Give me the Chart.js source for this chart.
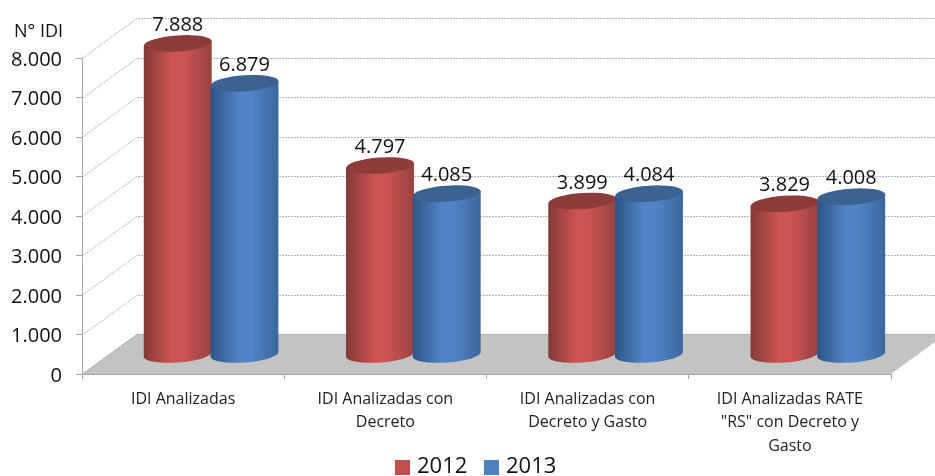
<!DOCTYPE html>
<html>
<head>
<meta charset="utf-8">
<script src="https://cdn.jsdelivr.net/npm/chart.js@4"></script>
<style>
    html, body { margin: 0; padding: 0; background: #fff; }
    canvas { display: block; }
</style>
</head>
<body>
<canvas id="idiChart" width="935" height="476"></canvas>
<script>
// Data
const categories = [
    'IDI Analizadas',
    ['IDI Analizadas con', 'Decreto'],
    ['IDI Analizadas con', 'Decreto y Gasto'],
    ['IDI Analizadas RATE', '"RS" con Decreto y', 'Gasto']
];
const values2012 = [7888, 4797, 3899, 3829];
const values2013 = [6879, 4085, 4084, 4008];

const FONT = "'Open Sans', sans-serif";
const GRID = '#b4b4b4';

// Depth of the 3D box, and how far into it the cylinders stand
const boxDx = 55, boxDy = 40;
const barDx = 28, barDy = 19, capRy = 8, capTilt = -0.07;

const palette = {
    2012: { left: '#843a38', mid: '#cc5452', right: '#964240', top: '#8e3c3a' },
    2013: { left: '#2d5585', mid: '#5184c6', right: '#3a679c', top: '#3b6290' }
};

const dotted = n => n.toLocaleString('de-DE');

// Walls and floor behind the bars
function drawBox(ctx, chart) {
    const { x, y } = chart.scales;
    const left = x.left, right = x.right, bottom = y.getPixelForValue(0);

    ctx.save();
    ctx.fillStyle = '#c3c3c3';
    ctx.beginPath();
    ctx.moveTo(left, bottom);
    ctx.lineTo(left + boxDx, bottom - boxDy);
    ctx.lineTo(right + boxDx, bottom - boxDy);
    ctx.lineTo(right, bottom);
    ctx.closePath();
    ctx.fill();

    ctx.strokeStyle = GRID;
    ctx.lineWidth = 1;
    y.ticks.forEach(t => {
        const py = Math.round(y.getPixelForValue(t.value)) + 0.5;
        ctx.setLineDash(t.value === 0 ? [] : [2, 1]);
        ctx.beginPath();
        ctx.moveTo(left, py);
        ctx.lineTo(left + boxDx, py - boxDy);
        ctx.lineTo(right + boxDx, py - boxDy);
        ctx.stroke();
    });
    ctx.restore();
}

function drawCylinder(ctx, bar, colors) {
    const cx = bar.x + barDx;
    const rx = bar.width / 2 + 0.6;
    const topY = bar.y - barDy;
    const baseY = bar.base - barDy;
    const lean = rx * Math.sin(capTilt);

    const grad = ctx.createLinearGradient(cx - rx, 0, cx + rx, 0);
    grad.addColorStop(0, colors.left);
    grad.addColorStop(0.42, colors.mid);
    grad.addColorStop(0.6, colors.mid);
    grad.addColorStop(1, colors.right);

    ctx.fillStyle = grad;
    ctx.beginPath();
    ctx.moveTo(cx - rx, topY - lean);
    ctx.lineTo(cx - rx, baseY - lean);
    ctx.ellipse(cx, baseY, rx, capRy, capTilt, Math.PI, 0, true);
    ctx.lineTo(cx + rx, topY + lean);
    ctx.closePath();
    ctx.fill();

    ctx.fillStyle = colors.top;
    ctx.beginPath();
    ctx.ellipse(cx, topY, rx, capRy, capTilt, 0, Math.PI * 2);
    ctx.fill();
}

function drawLegend(ctx, chart) {
    ctx.save();
    ctx.font = '22px ' + FONT;
    ctx.textAlign = 'left';
    ctx.textBaseline = 'middle';
    chart.data.datasets.forEach((ds, d) => {
        const x = 395 + d * 89;
        ctx.fillStyle = ds.backgroundColor;
        ctx.fillRect(x, 460, 15, 15);
        ctx.fillStyle = '#111';
        ctx.fillText(ds.label, x + 22, 467);
    });
    ctx.restore();
}

// Replaces the flat bars: same element positions, drawn as cylinders
const cylinders = {
    id: 'cylinders',
    beforeDatasetsDraw(chart) {
        const ctx = chart.ctx;
        drawBox(ctx, chart);

        chart.data.labels.forEach((_, i) => {
            chart.data.datasets.forEach((ds, d) => {
                drawCylinder(ctx, chart.getDatasetMeta(d).data[i], palette[ds.label]);
            });
        });

        ctx.save();
        ctx.fillStyle = '#111';
        ctx.font = '20px ' + FONT;
        ctx.textAlign = 'center';
        ctx.textBaseline = 'middle';
        chart.data.datasets.forEach((ds, d) => {
            chart.getDatasetMeta(d).data.forEach((bar, i) => {
                ctx.fillText(dotted(ds.data[i]), bar.x + barDx, bar.y - barDy - 18);
            });
        });
        ctx.textAlign = 'left';
        ctx.font = '18px ' + FONT;
        ctx.fillText('N° IDI', 14, 32);
        ctx.restore();

        drawLegend(ctx, chart);
        return false;
    }
};

new Chart(document.getElementById('idiChart'), {
    type: 'bar',
    data: {
        labels: categories,
        datasets: [
            { label: '2012', data: values2012, backgroundColor: '#c0504d' },
            { label: '2013', data: values2013, backgroundColor: '#4f81bd' }
        ]
    },
    plugins: [cylinders],
    options: {
        responsive: false,
        animation: false,
        categoryPercentage: 0.66,
        barPercentage: 1,
        layout: { padding: { top: 58, left: 0, right: 44, bottom: 0 } },
        scales: {
            x: {
                afterFit: s => { s.height = 102; },
                border: { color: '#a6a6a6' },
                grid: { drawOnChartArea: false, tickLength: 5, color: '#a6a6a6' },
                ticks: {
                    color: '#222',
                    padding: 9,
                    autoSkip: false,
                    maxRotation: 0,
                    font: { family: FONT, size: 16, lineHeight: 1.45 }
                }
            },
            y: {
                min: 0,
                max: 8000,
                afterFit: s => { s.width = 82; },
                border: { color: '#a6a6a6', dash: [2, 1] },
                grid: { drawOnChartArea: false, tickLength: 6, color: '#a6a6a6' },
                ticks: {
                    stepSize: 1000,
                    color: '#111',
                    padding: 14,
                    labelOffset: 2,
                    font: { family: FONT, size: 20 },
                    callback: v => dotted(v)
                }
            }
        },
        plugins: {
            tooltip: { enabled: false },
            legend: { display: false }
        }
    }
});
</script>
</body>
</html>
